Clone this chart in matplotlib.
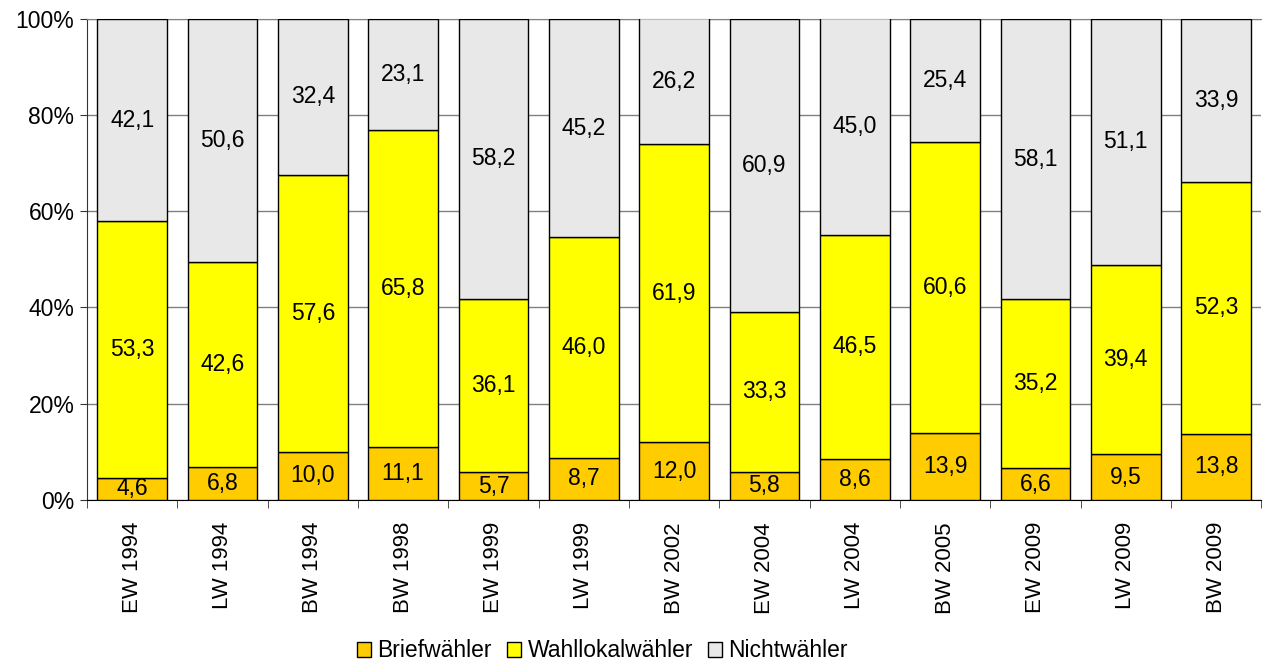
import numpy as np
import matplotlib.pyplot as plt
from matplotlib.ticker import FuncFormatter

plt.rcParams['font.family'] = ['Liberation Sans', 'DejaVu Sans']

wahlen = ['EW 1994', 'LW 1994', 'BW 1994', 'BW 1998', 'EW 1999', 'LW 1999', 'BW 2002',
          'EW 2004', 'LW 2004', 'BW 2005', 'EW 2009', 'LW 2009', 'BW 2009']
brief = [4.6, 6.8, 10.0, 11.1, 5.7, 8.7, 12.0, 5.8, 8.6, 13.9, 6.6, 9.5, 13.8]
wahllokal = [53.3, 42.6, 57.6, 65.8, 36.1, 46.0, 61.9, 33.3, 46.5, 60.6, 35.2, 39.4, 52.3]
nicht = [42.1, 50.6, 32.4, 23.1, 58.2, 45.2, 26.2, 60.9, 45.0, 25.4, 58.1, 51.1, 33.9]

series = [('Briefwähler', brief, '#FFCC00'),
          ('Wahllokalwähler', wahllokal, '#FFFF00'),
          ('Nichtwähler', nicht, '#E8E8E8')]

fig = plt.figure(figsize=(12.64, 6.63), dpi=100)
ax = fig.add_axes([0.0688, 0.246, 0.929, 0.7255])

x = np.arange(len(wahlen))
bottom = np.zeros(len(wahlen))
for name, vals, col in series:
    vals = np.array(vals)
    ax.bar(x, vals, 0.77, bottom=bottom, color=col, edgecolor='black', linewidth=1,
           label=name, zorder=3)
    for xi, b, v in zip(x, bottom, vals):
        ax.text(xi, b + v / 2, f'{v:.1f}'.replace('.', ','), ha='center', va='center',
                fontsize=16.5, zorder=4)
    bottom += vals

ax.set_xlim(-0.5, len(wahlen) - 0.5)
ax.set_ylim(0, 100)
ax.set_yticks(range(0, 101, 20))
ax.yaxis.set_major_formatter(FuncFormatter(lambda v, p: f'{v:.0f}%'))
ax.tick_params(axis='y', labelsize=16.5, length=5, color='#333333', pad=4)
ax.grid(axis='y', color='#808080', linewidth=1, zorder=0)

ax.set_xticks(x)
ax.set_xticklabels(wahlen, rotation=90, fontsize=16)
ax.tick_params(axis='x', length=0, pad=16)
ax.set_xticks(np.arange(-0.5, len(wahlen)), minor=True)
ax.tick_params(axis='x', which='minor', length=6, color='#333333')

ax.spines['right'].set_visible(False)
ax.spines['top'].set_color('#808080')
ax.spines['left'].set_color('#333333')
ax.spines['bottom'].set_color('black')

ax.legend(loc='center', bbox_to_anchor=(0.439, -0.314), ncol=3, frameon=False,
          fontsize=16.5, handlelength=0.6, handleheight=0.6, handletextpad=0.3,
          columnspacing=0.65, borderaxespad=0)

fig.savefig('out.png', dpi=100)
